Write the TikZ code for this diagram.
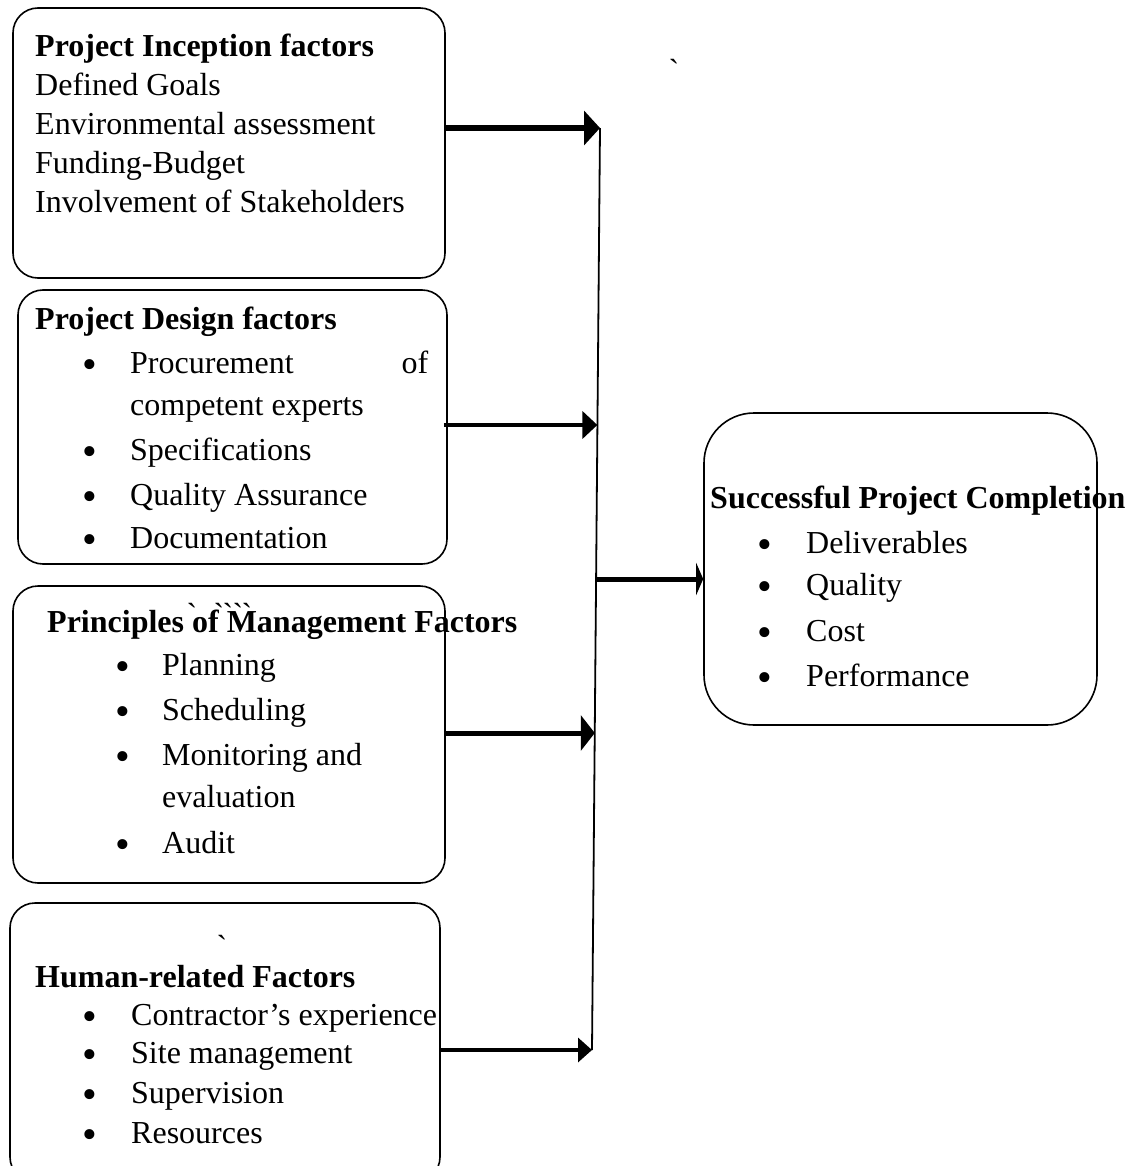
\documentclass[tikz,border=0pt]{standalone}
\usepackage{fontspec}
\setmainfont{Liberation Serif}
\usetikzlibrary{arrows.meta,calc}
\newcommand\mygrave{\XeTeXglyph\XeTeXcharglyph"60\relax}
\begin{document}
\begin{tikzpicture}[x=1pt,y=-1pt,
  box/.style={draw,line width=1.6pt,rounded corners=25pt,inner sep=0pt},
  txt/.style={anchor=base west,inner sep=0pt,font=\fontsize{32}{39}\selectfont},
  ttl/.style={anchor=base west,inner sep=0pt,font=\fontsize{32}{39}\selectfont\bfseries},
  bul/.style={anchor=base,inner sep=0pt,font=\fontsize{42}{42}\selectfont,yshift=-5pt},
  tick/.style={anchor=base,inner sep=0pt,font=\fontsize{32}{39}\selectfont},
  conn/.style={line width=1.8pt}]
\useasboundingbox (0,0) rectangle (1127,1166);
\clip (0,0) rectangle (1127,1166);

% boxes
\node[box,minimum width=432pt,minimum height=270pt] (b1) at (229,143) {};
\node[box,minimum width=429pt,minimum height=274pt] (b2) at (232.5,427) {};
\node[box,minimum width=432pt,minimum height=297pt] (b3) at (229,734.5) {};
\node[box,minimum width=430pt,minimum height=279pt] (b4) at (225,1042.5) {};
\node[box,rounded corners=50pt,minimum width=393pt,minimum height=312pt] (b5) at (900.5,569) {};

% vertical collector line
\coordinate (vt) at (600,128);
\coordinate (vb) at (592,1050);
\coordinate (t2) at (597.4,425);
\coordinate (t4) at (594.8,733);
\coordinate (m) at (596,579);
\draw[conn] (vt) -- (vb);

% arrows
\draw[line width=5.5pt,-{Triangle[length=16pt,width=34pt]}] (b1.east |- vt) -- (vt);
\draw[line width=4pt,-{Triangle[length=15pt,width=27pt]}] ([xshift=-4pt]b2.east |- t2) -- (t2);
\draw[line width=5pt,-{Triangle[length=14pt,width=35pt]}] (b3.east |- t4) -- (t4);
\draw[line width=3.5pt,-{Triangle[length=14pt,width=24pt]}] (b4.east |- vb) -- (vb);
\draw[line width=5pt,-{Triangle[length=7pt,width=32pt]}] (m) -- (b5.west |- m);

% box 1
\node[ttl] (h1) at (35,57) {Project Inception factors};
\node[txt] (l11) at (35,96) {Defined Goals};
\node[txt] (l12) at (35,135) {Environmental assessment};
\node[txt] (l13) at (35,174) {Funding-Budget};
\node[txt] (l14) at (35,213) {Involvement of Stakeholders};

% box 2
\node[ttl] (h2) at (35,329) {Project Design factors};
\node[bul] (p21) at (90,373) {•};
\node[bul] (p22) at (90,460) {•};
\node[bul] (p23) at (90,505) {•};
\node[bul] (p24) at (90,548) {•};
\node[txt] (l21) at (130,373) {\makebox[298pt][l]{Procurement\hfill of}};
\node[txt] (l21b) at (130,415) {competent experts};
\node[txt] (l22) at (130,460) {Specifications};
\node[txt] (l23) at (130,505) {Quality Assurance};
\node[txt] (l24) at (130,548) {Documentation};

% box 3
\node[ttl] (h3) at (47,632) {Principles of Management Factors};
\node[tick] (k1) at (192,625) {\mygrave};
\node[tick] (k2) at (219,625) {\mygrave};
\node[tick] (k3) at (228,625) {\mygrave};
\node[tick] (k4) at (238,625) {\mygrave};
\node[tick] (k5) at (247,625) {\mygrave};
\node[bul] (p31) at (123,675) {•};
\node[bul] (p32) at (123,720) {•};
\node[bul] (p33) at (123,765) {•};
\node[bul] (p34) at (123,853) {•};
\node[txt] (l31) at (162,675) {Planning};
\node[txt] (l32) at (162,720) {Scheduling};
\node[txt] (l33) at (162,765) {Monitoring and};
\node[txt] (l33b) at (162,807) {evaluation};
\node[txt] (l34) at (162,853) {Audit};

% box 4
\node[tick] (k6) at (222,957) {\mygrave};
\node[ttl] (h4) at (35,987) {Human-related Factors};
\node[bul] (p41) at (90,1025) {•};
\node[bul] (p42) at (90,1063) {•};
\node[bul] (p43) at (90,1103) {•};
\node[bul] (p44) at (90,1143) {•};
\node[txt] (l41) at (131,1025) {Contractor’s experience};
\node[txt] (l42) at (131,1063) {Site management};
\node[txt] (l43) at (131,1103) {Supervision};
\node[txt] (l44) at (131,1143) {Resources};

% box 5
\node[ttl] (h5) at (710,508) {Successful Project Completion};
\node[bul] (p51) at (765,553) {•};
\node[bul] (p52) at (765,595) {•};
\node[bul] (p53) at (765,641) {•};
\node[bul] (p54) at (765,686) {•};
\node[txt] (l51) at (806,553) {Deliverables};
\node[txt] (l52) at (806,595) {Quality};
\node[txt] (l53) at (806,641) {Cost};
\node[txt] (l54) at (806,686) {Performance};

% stray tick top right
\node[tick] (k0) at (674,82) {\mygrave};
\end{tikzpicture}
\end{document}
